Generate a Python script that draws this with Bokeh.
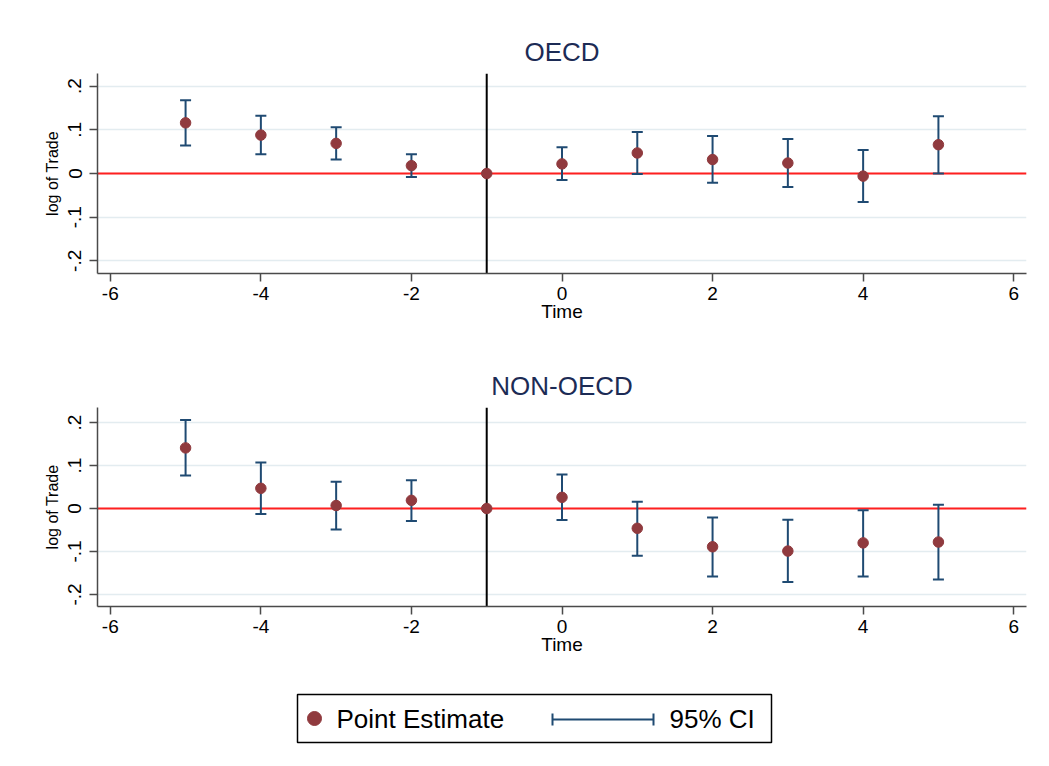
from bokeh.plotting import figure
from bokeh.models import ColumnDataSource, Whisker, TeeHead, Span, Range1d, FixedTicker
from bokeh.layouts import column
from bokeh.embed import file_html
from bokeh.resources import INLINE
from bokeh.core.properties import value

# ---------------- data ----------------
time = [-5, -4, -3, -2, -1, 0, 1, 2, 3, 4, 5]
oecd_est = [0.116, 0.088, 0.069, 0.018, 0.0, 0.022, 0.047, 0.032, 0.024, -0.006, 0.066]
oecd_lo = [0.064, 0.044, 0.032, -0.008, None, -0.015, -0.001, -0.021, -0.031, -0.065, 0.000]
oecd_hi = [0.168, 0.132, 0.106, 0.044, None, 0.060, 0.095, 0.086, 0.079, 0.054, 0.131]
non_est = [0.141, 0.047, 0.007, 0.019, 0.0, 0.026, -0.046, -0.089, -0.099, -0.080, -0.078]
non_lo = [0.077, -0.013, -0.049, -0.029, None, -0.027, -0.110, -0.158, -0.171, -0.158, -0.165]
non_hi = [0.206, 0.107, 0.062, 0.066, None, 0.079, 0.016, -0.021, -0.026, -0.004, 0.009]
panel_titles = ["OECD", "NON-OECD"]
y_ticks = [-0.2, -0.1, 0.0, 0.1, 0.2]
y_tick_labels = ["-.2", "-.1", "0", ".1", ".2"]
x_ticks = [-6, -4, -2, 0, 2, 4, 6]
x_tick_labels = ["-6", "-4", "-2", "0", "2", "4", "6"]
ref_time = -1
zero_line = 0
legend_labels = ["Point Estimate", "95% CI"]

# ---------------- style ----------------
FONT = "Liberation Sans"
MAROON = "#903a3e"
NAVY = "#1f4a72"
AXIS = "#4a4a4a"
GRID = "#e3ecf0"
W = 1041
BL, BR = 97, 15


def panel(title, est, lo, hi, yr, top, frame_h, bottom):
    p = figure(width=W, height=top + frame_h + bottom,
               x_range=Range1d(-6.17, 6.17), y_range=Range1d(*yr),
               output_backend="svg", toolbar_location=None,
               min_border_left=BL, min_border_right=BR, min_border_top=top, min_border_bottom=bottom,
               outline_line_color=None, background_fill_color="white", border_fill_color="white",
               title=title)
    p.title.align = "center"
    p.title.text_font = FONT
    p.title.text_font_size = "26px"
    p.title.text_font_style = "normal"
    p.title.text_color = "#1c2b55"
    p.title.standoff = 14

    for ax in (p.xaxis[0], p.yaxis[0]):
        ax.axis_line_color = AXIS
        ax.axis_line_width = 1.5
        ax.major_tick_line_color = AXIS
        ax.major_tick_line_width = 1.5
        ax.major_tick_out = 8
        ax.major_tick_in = 0
        ax.minor_tick_out = 0
        ax.minor_tick_in = 0
        ax.major_label_text_font = FONT
        ax.major_label_text_font_size = "19px"
        ax.major_label_text_color = "black"
        ax.axis_label_text_font = FONT
        ax.axis_label_text_font_style = "normal"
        ax.axis_label_text_color = "black"

    p.xaxis.ticker = FixedTicker(ticks=x_ticks)
    p.xaxis.major_label_overrides = {t: l for t, l in zip(x_ticks, x_tick_labels)}
    p.xaxis.axis_label = "Time"
    p.xaxis.axis_label_text_font_size = "19px"
    p.xaxis.major_label_standoff = 5
    p.xaxis.axis_label_standoff = -2

    p.yaxis.ticker = FixedTicker(ticks=y_ticks)
    p.yaxis.major_label_overrides = {t: l for t, l in zip(y_ticks, y_tick_labels)}
    p.yaxis.major_label_orientation = "vertical"
    p.yaxis.major_label_standoff = 8
    p.yaxis.axis_label = "log of Trade"
    p.yaxis.axis_label_text_font_size = "16px"
    p.yaxis.axis_label_standoff = 5

    p.xgrid.visible = False
    p.ygrid.ticker = FixedTicker(ticks=y_ticks)
    p.ygrid.grid_line_color = GRID
    p.ygrid.grid_line_width = 1.5

    p.add_layout(Span(location=zero_line, dimension="width", line_color="#ff1f1f",
                      line_width=2, level="underlay"))
    p.add_layout(Span(location=ref_time, dimension="height", line_color="black",
                      line_width=2, level="underlay"))

    rows = [i for i in range(len(time)) if lo[i] is not None]
    src_ci = ColumnDataSource(dict(x=[time[i] for i in rows],
                                   lower=[lo[i] for i in rows],
                                   upper=[hi[i] for i in rows]))
    p.add_layout(Whisker(base="x", lower="lower", upper="upper", source=src_ci,
                         line_color=NAVY, line_width=2, level="underlay",
                         upper_head=TeeHead(size=11, line_color=NAVY, line_width=2),
                         lower_head=TeeHead(size=11, line_color=NAVY, line_width=2)))

    p.scatter(x=time, y=est, size=10.5, fill_color=MAROON, line_color=MAROON)
    return p


p1 = panel(panel_titles[0], oecd_est, oecd_lo, oecd_hi, (-0.229, 0.229), 73, 200, 70)
p2 = panel(panel_titles[1], non_est, non_lo, non_hi, (-0.228, 0.235), 64, 199, 70)

# ---------------- legend (screen-pixel coordinates) ----------------
LH = 82
lg = figure(width=W, height=LH, x_range=Range1d(BL, W - BR), y_range=Range1d(LH, 0),
            output_backend="svg", toolbar_location=None,
            min_border_left=BL, min_border_right=BR, min_border_top=0, min_border_bottom=0,
            outline_line_color=None, background_fill_color="white", border_fill_color="white")
lg.axis.visible = False
lg.grid.visible = False
lg.quad(left=[297], right=[771], top=[18], bottom=[66], fill_color=None,
        line_color="black", line_width=1.5)
lg.scatter(x=[314], y=[42], size=14, fill_color=MAROON, line_color=MAROON)
lg.text(x=[336], y=[42], text=[legend_labels[0]], text_font=value(FONT),
        text_font_size="26px", text_baseline="middle", text_align="left", text_color="black")
lg.segment(x0=[552], y0=[43], x1=[653], y1=[43], line_color=NAVY, line_width=2)
lg.segment(x0=[552, 653], y0=[37, 37], x1=[552, 653], y1=[49, 49],
           line_color=NAVY, line_width=2)
lg.text(x=[669], y=[42], text=[legend_labels[1]], text_font=value(FONT),
        text_font_size="26px", text_baseline="middle", text_align="left", text_color="black")

layout = column(p1, p2, lg, spacing=0)
open("out.html", "w").write(file_html(layout, INLINE))
